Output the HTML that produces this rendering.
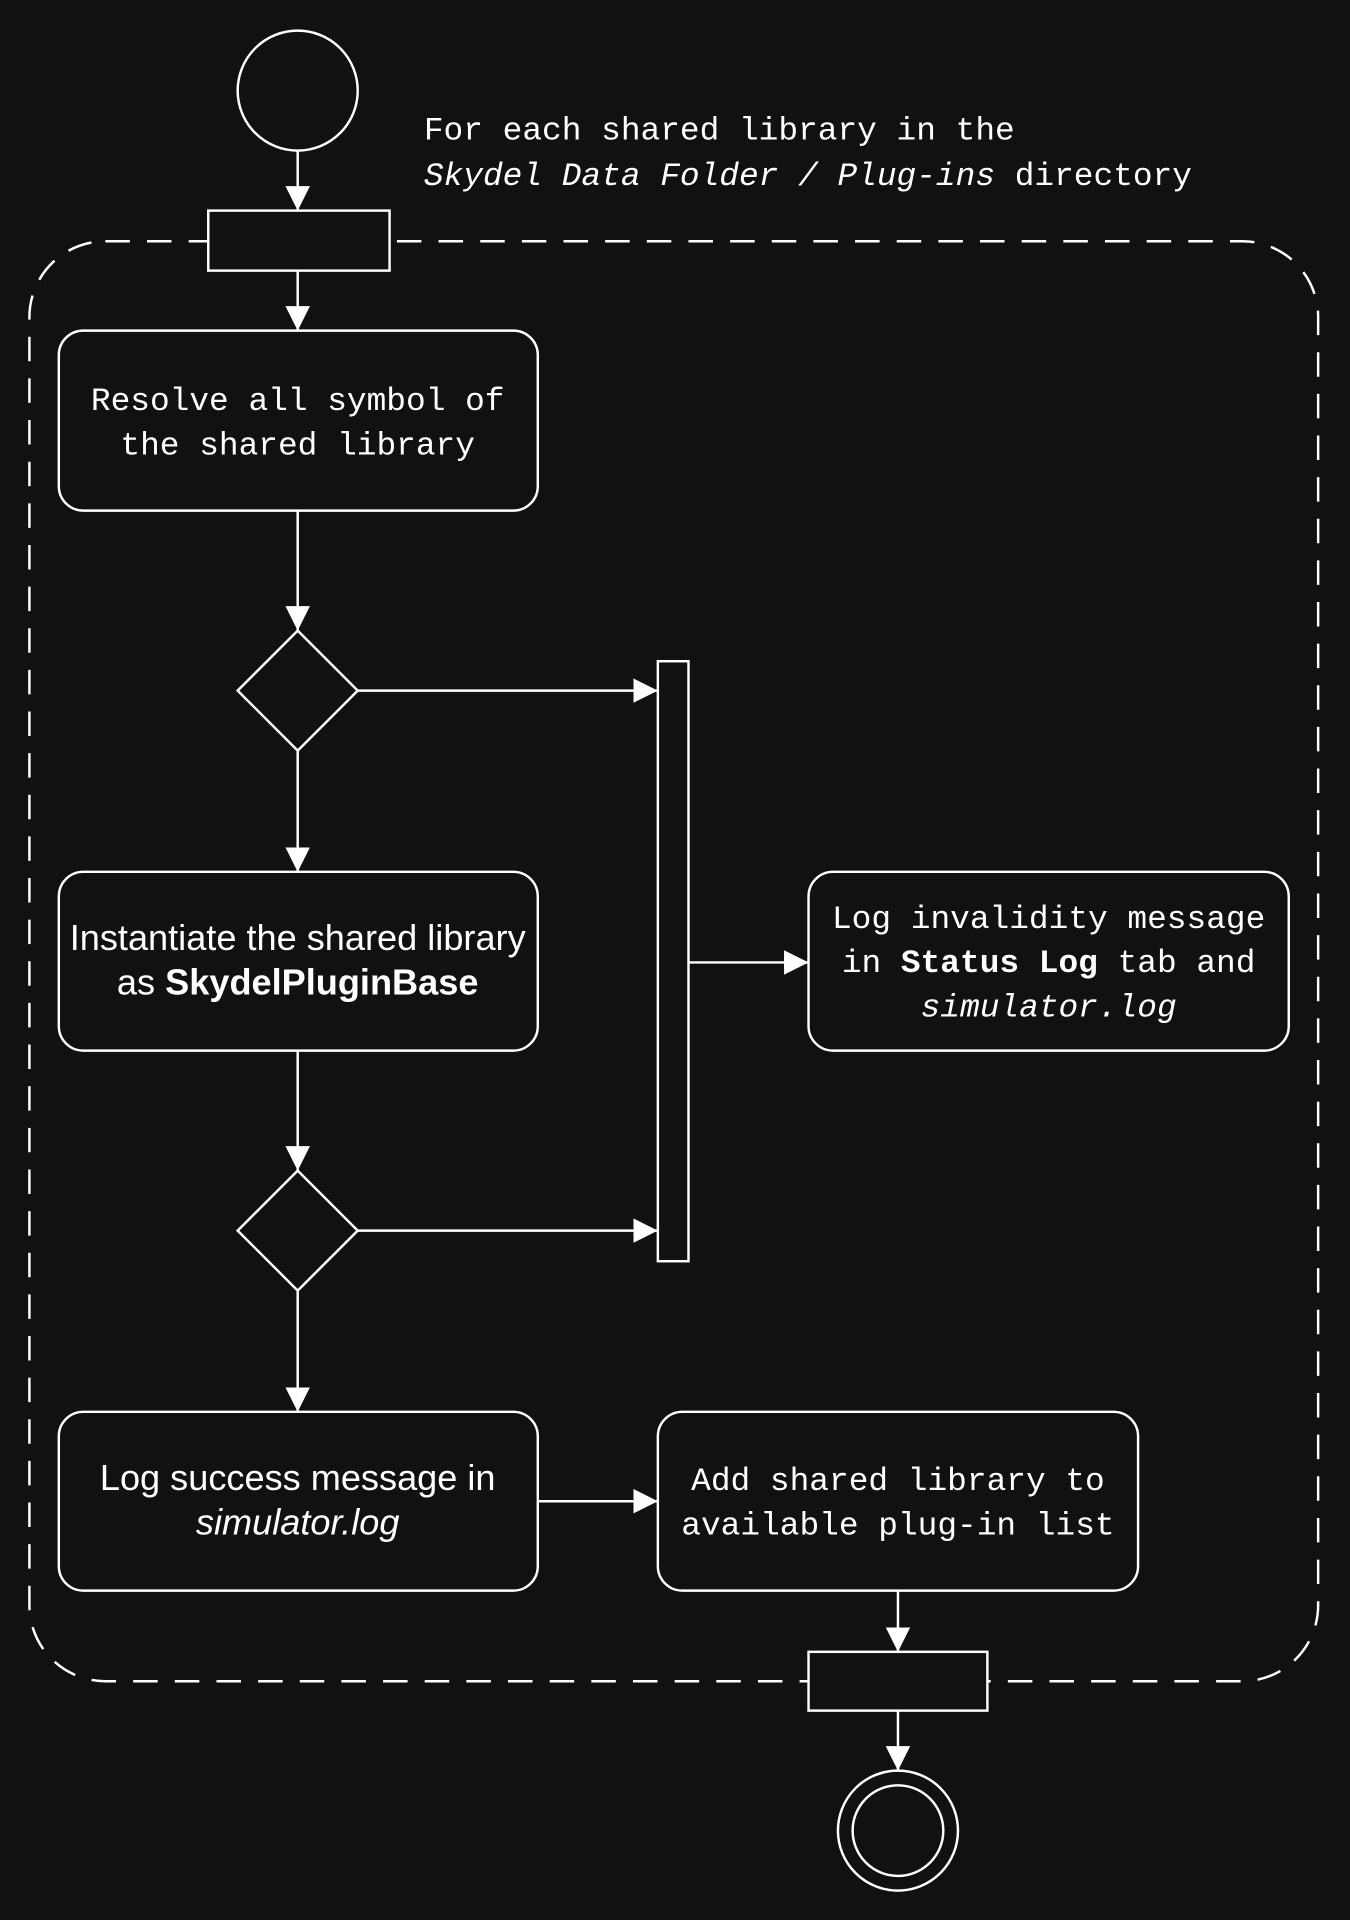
<!DOCTYPE html>
<html><head><meta charset="utf-8"><style>html,body{margin:0;padding:0;background:#111}svg{display:block}</style></head>
<body>
<svg width="1350" height="1920" viewBox="0 0 1102 1568" preserveAspectRatio="none" xmlns="http://www.w3.org/2000/svg">
<defs>
<marker id="b" markerWidth="20" markerHeight="20" refX="20" refY="10" orient="auto" markerUnits="userSpaceOnUse"><path d="M0,0 L20,10 L0,20 Z" fill="#fff"/></marker></defs>
<rect width="1102" height="1568" fill="#111"/>
<g fill="none" stroke="#fff" stroke-width="2">
<rect x="24" y="197" width="1052" height="1176" rx="62" stroke-dasharray="20,14"/>
<circle cx="243" cy="74" r="49" fill="#111"/>
<rect x="170" y="172" width="148" height="49" fill="#111"/>
<rect x="48" y="270" width="391" height="147" rx="20" fill="#111"/>
<path d="M243,515 L292,564 L243,613 L194,564 Z" fill="#111"/>
<rect x="537" y="540" width="25" height="490" fill="#111"/>
<rect x="48" y="712" width="391" height="146" rx="20" fill="#111"/>
<rect x="660" y="712" width="392" height="146" rx="20" fill="#111"/>
<path d="M243,956 L292,1005 L243,1054 L194,1005 Z" fill="#111"/>
<rect x="48" y="1153" width="391" height="146" rx="20" fill="#111"/>
<rect x="537" y="1153" width="392" height="146" rx="20" fill="#111"/>
<rect x="660" y="1349" width="146" height="48" fill="#111"/>
<circle cx="733" cy="1495" r="49"/>
<circle cx="733" cy="1495" r="37"/>
</g>
<g stroke="#fff" stroke-width="2">
<line x1="243" y1="123" x2="243" y2="172" marker-end="url(#b)"/>
<line x1="243" y1="221" x2="243" y2="270" marker-end="url(#b)"/>
<line x1="243" y1="417" x2="243" y2="515" marker-end="url(#b)"/>
<line x1="292" y1="564" x2="537" y2="564" marker-end="url(#b)"/>
<line x1="243" y1="613" x2="243" y2="712" marker-end="url(#b)"/>
<line x1="562" y1="786" x2="660" y2="786" marker-end="url(#b)"/>
<line x1="243" y1="858" x2="243" y2="956" marker-end="url(#b)"/>
<line x1="292" y1="1005" x2="537" y2="1005" marker-end="url(#b)"/>
<line x1="243" y1="1054" x2="243" y2="1153" marker-end="url(#b)"/>
<line x1="439" y1="1226" x2="537" y2="1226" marker-end="url(#b)"/>
<line x1="733" y1="1299" x2="733" y2="1349" marker-end="url(#b)"/>
<line x1="733" y1="1397" x2="733" y2="1446" marker-end="url(#b)"/>
</g>
<g fill="#fff" font-family="Liberation Mono, DejaVu Sans Mono, monospace" font-size="26.8">
<text x="346" y="114">For each shared library in the</text>
<text x="346" y="151"><tspan font-style="italic">Skydel Data Folder / Plug-ins</tspan> directory</text>
<g text-anchor="middle">
<text x="243" y="335">Resolve all symbol of</text>
<text x="243" y="371">the shared library</text>
<text x="856" y="758">Log invalidity message</text>
<text x="856" y="794">in <tspan font-weight="bold">Status Log</tspan> tab and</text>
<text x="856" y="830" font-style="italic">simulator.log</text>
<text x="733" y="1217">Add shared library to</text>
<text x="733" y="1253">available plug-in list</text>
</g>
<g text-anchor="middle" font-family="Liberation Sans, Arial, sans-serif" font-size="29.5">
<text x="243" y="776">Instantiate the shared library</text>
<text x="243" y="812">as <tspan font-weight="bold">SkydelPluginBase</tspan></text>
<text x="243" y="1217">Log success message in</text>
<text x="243" y="1253" font-style="italic">simulator.log</text>
</g>
</g>
</svg>
</body></html>
